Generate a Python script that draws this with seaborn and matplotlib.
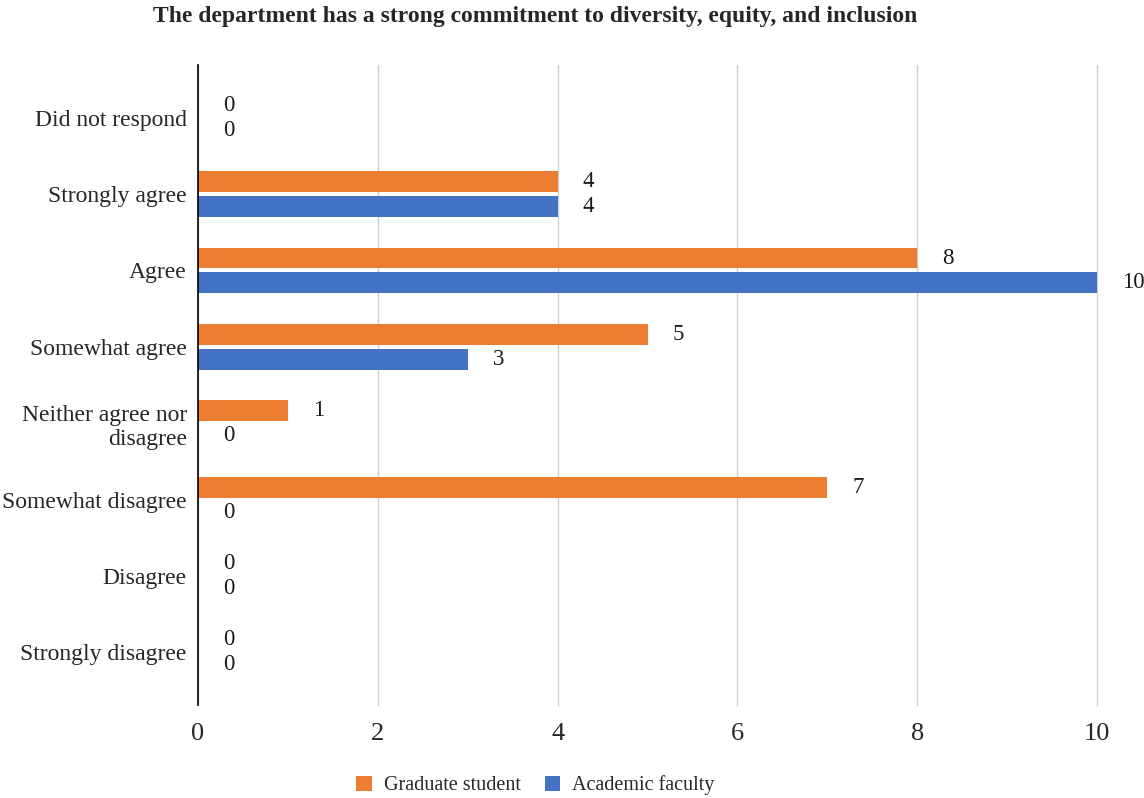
import matplotlib
matplotlib.use("Agg")
import matplotlib.pyplot as plt
import seaborn as sns
import pandas as pd
from matplotlib.patches import Patch

categories = ["Did not respond", "Strongly agree", "Agree", "Somewhat agree",
              "Neither agree nor\ndisagree", "Somewhat disagree", "Disagree",
              "Strongly disagree"]
series_names = ["Graduate student", "Academic faculty"]
graduate = [0, 4, 8, 5, 1, 7, 0, 0]
faculty = [0, 4, 10, 3, 0, 0, 0, 0]
x_ticks = [0, 2, 4, 6, 8, 10]
colors = ["#ED7D31", "#4472C4"]
title = "The department has a strong commitment to diversity, equity, and inclusion"

sns.set_theme(style="white")
plt.rcParams["font.family"] = ["Liberation Serif", "DejaVu Serif"]

df = pd.DataFrame({
    "category": categories * 2,
    "value": graduate + faculty,
    "series": [series_names[0]] * len(categories) + [series_names[1]] * len(categories),
})

fig = plt.figure(figsize=(11.44, 7.98), dpi=100)
ax = fig.add_axes([0.173, 0.1165, 0.786, 0.802])

sns.barplot(data=df, y="category", x="value", hue="series", order=categories,
            hue_order=series_names, palette=colors, orient="h", width=0.653,
            linewidth=0, saturation=1, legend=False, ax=ax)

# leave a thin gap between paired bars
for cont in ax.containers:
    for bar in cont:
        h = bar.get_height()
        shrink = h * 0.16
        bar.set_height(h - shrink)
        bar.set_y(bar.get_y() + shrink / 2)

ax.set_xlim(0, 10)
ax.set_ylim(len(categories) - 1 + 0.69, -0.69)
ax.set_xticks(x_ticks)
ax.set_xticklabels([str(t) for t in x_ticks], fontsize=19)
ax.tick_params(axis="y", labelsize=17, length=0, pad=8)
ax.tick_params(axis="x", length=0, pad=13)
ax.set_xlabel("")
ax.set_ylabel("")
ax.xaxis.grid(True, color="#D0D0D0", linewidth=1)
for gl in ax.get_xgridlines():
    gl.set_clip_on(False)
ax.set_axisbelow(True)
for s in ["top", "right", "bottom"]:
    ax.spines[s].set_visible(False)
ax.spines["left"].set_color("black")
ax.spines["left"].set_linewidth(1.2)
ax.spines["left"].set_zorder(5)

for cont in ax.containers:
    for bar in cont:
        w = bar.get_width()
        yc = bar.get_y() + bar.get_height() / 2
        ax.annotate(f"{int(round(w))}", xy=(w, yc), xytext=(18, 0),
                    textcoords="offset points", ha="left", va="center",
                    fontsize=16.5, color="#1a1a1a")

fig.text(0.468, 0.979, title, ha="center", va="center", fontsize=17,
         fontweight="bold")

handles = [Patch(facecolor=c, edgecolor="none") for c in colors]
fig.legend(handles, series_names, loc="center", bbox_to_anchor=(0.468, 0.016),
           ncol=2, frameon=False, fontsize=14.5, handlelength=0.75, handleheight=0.75,
           handletextpad=0.6, columnspacing=1.2)

fig.savefig("out.png", dpi=100)
